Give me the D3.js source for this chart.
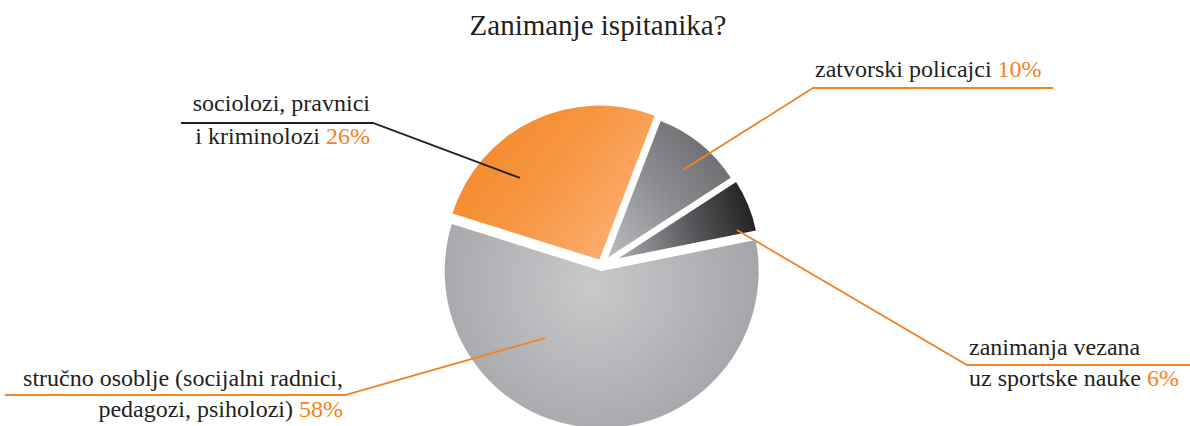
<!DOCTYPE html>
<html>
<head>
<meta charset="utf-8">
<script src="https://cdn.jsdelivr.net/npm/d3@7"></script>
</head>
<body style="margin:0">
<svg id="chart" width="1190" height="426"></svg>
<script>
const title = "Zanimanje ispitanika?";
const categories = ["zatvorski policajci", "zanimanja vezana uz sportske nauke",
                    "stručno osoblje (socijalni radnici, pedagozi, psiholozi)", "sociolozi, pravnici i kriminolozi"];
const shares = [10, 6, 58, 26];
const labelLines = [
    ["zatvorski policajci"],
    ["zanimanja vezana", "uz sportske nauke"],
    ["stručno osoblje (socijalni radnici,", "pedagozi, psiholozi)"],
    ["sociolozi, pravnici", "i kriminolozi"]
];

const cx = 602, cy = 265;
const orange = "#f58220";
const ink = "#231f20";
const serif = "Liberation Serif, Times New Roman, serif";

// per slice look: explode distance, radius, gradient (relative to slice apex), leader line
const slices = [
    {explode: 10, radius: 146,
     grad: {type: "linear", p: [120, -110, 5, -10], stops: [[0, "#69696c"], [0.5, "#8a8b8e"], [1, "#b5b6b9"]]},
     tip: [40.6, 114.8], elbow: [813, 88], lineEnd: 1053, color: orange,
     text: {x: 815, y: 77, anchor: "start", dy: 0}},
    {explode: 18, radius: 140,
     grad: {type: "linear", p: [138, -40, 5, 0], stops: [[0, "#231f20"], [0.45, "#55565a"], [1, "#a3a5a8"]]},
     tip: [76.6, 121.6], elbow: [967, 365], lineEnd: 1190, color: orange,
     text: {x: 969, y: 355, anchor: "start", dy: 31}},
    {explode: 6, radius: 157,
     grad: {type: "radial", p: [-10, 15, 175], stops: [[0, "#c8c9cb"], [1, "#a2a4a7"]]},
     tip: [220.2, 87.8], elbow: [345, 395], lineEnd: 5, color: orange,
     text: {x: 343, y: 386, anchor: "end", dy: 31}},
    {explode: 6, radius: 154,
     grad: {type: "linear", p: [-130, -120, 10, -10], stops: [[0, "#f58a2c"], [0.45, "#f6953f"], [1, "#fbac6c"]]},
     tip: [315.8, 113.9], elbow: [373, 123], lineEnd: 181, color: ink,
     text: {x: 370, y: 111, anchor: "end", dy: 33}}
];

const svg = d3.select("#chart");
const defs = svg.append("defs");

function addGradient(id, gr){
    let g;
    if (gr.type === "linear") {
        g = defs.append("linearGradient").attr("id", id)
            .attr("gradientUnits", "userSpaceOnUse")
            .attr("x1", gr.p[0]).attr("y1", gr.p[1]).attr("x2", gr.p[2]).attr("y2", gr.p[3]);
    } else {
        g = defs.append("radialGradient").attr("id", id)
            .attr("gradientUnits", "userSpaceOnUse")
            .attr("cx", gr.p[0]).attr("cy", gr.p[1]).attr("r", gr.p[2]);
    }
    gr.stops.forEach(s => g.append("stop").attr("offset", s[0]).attr("stop-color", s[1]));
}

svg.append("text")
    .attr("x", 598).attr("y", 35)
    .attr("text-anchor", "middle")
    .attr("font-family", serif)
    .attr("font-size", 29)
    .attr("fill", ink)
    .text(title);

const pie = d3.pie().sort(null)
    .startAngle(21 * Math.PI / 180)
    .endAngle(21 * Math.PI / 180 + 2 * Math.PI)
    .value(d => d);

const arcs = pie(shares);

arcs.forEach((a, i) => {
    const s = slices[i];
    const mid = (a.startAngle + a.endAngle) / 2;
    const [ox, oy] = d3.pointRadial(mid, s.explode);
    const apexX = cx + ox, apexY = cy + oy;
    const arc = d3.arc().innerRadius(0).outerRadius(s.radius);

    addGradient("grad" + i, s.grad);
    const g = svg.append("g").attr("transform", `translate(${apexX},${apexY})`);
    g.append("path").attr("d", arc(a)).attr("fill", `url(#grad${i})`);

    // leader line
    const [tx, ty] = d3.pointRadial(s.tip[0] * Math.PI / 180, s.tip[1]);
    svg.append("path")
        .attr("d", d3.line()([[apexX + tx, apexY + ty], s.elbow, [s.lineEnd, s.elbow[1]]]))
        .attr("fill", "none")
        .attr("stroke", s.color)
        .attr("stroke-width", 1.8);

    // label text
    const lines = labelLines[i];
    const t = svg.append("text")
        .attr("text-anchor", s.text.anchor)
        .attr("font-family", serif)
        .attr("font-size", 24)
        .attr("fill", ink);
    lines.forEach((ln, k) => {
        t.append("tspan").attr("x", s.text.x).attr("y", s.text.y + k * s.text.dy).text(ln);
        if (k === lines.length - 1) {
            t.append("tspan").attr("fill", orange).text(" " + shares[i] + "%");
        }
    });
});
</script>
</body>
</html>
